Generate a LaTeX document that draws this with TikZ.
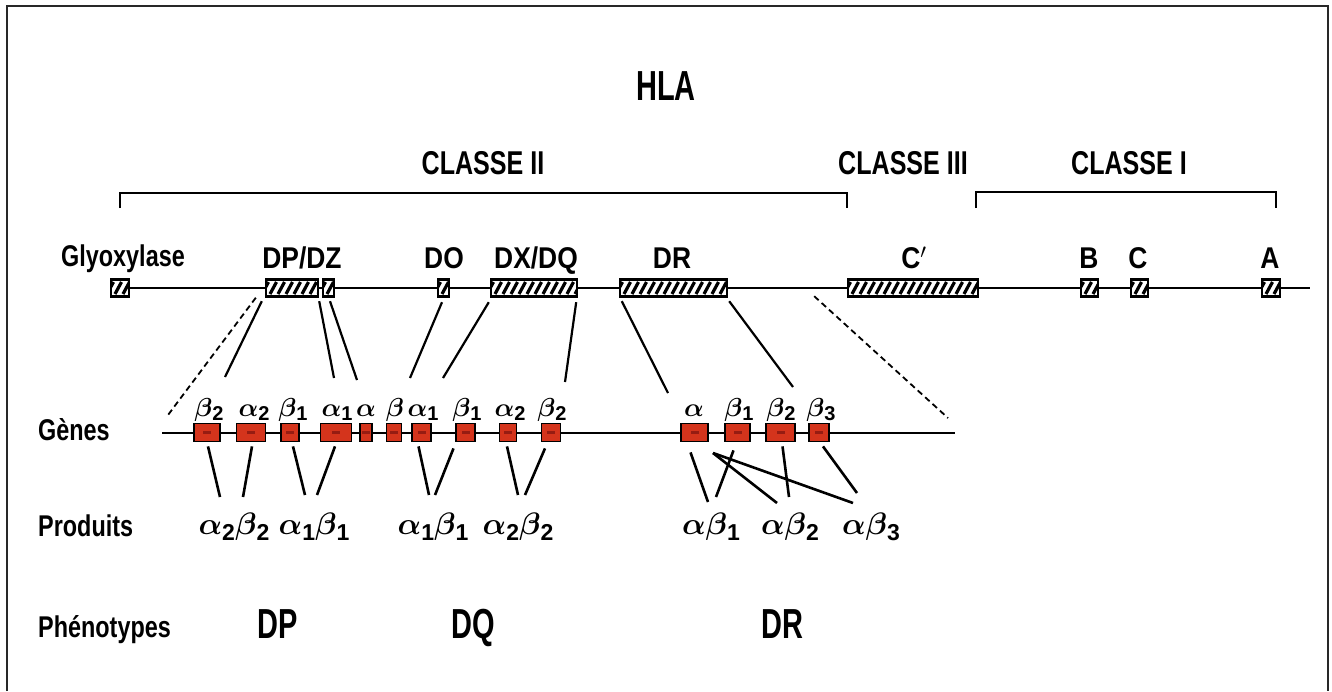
\documentclass[tikz,border=0pt]{standalone}
\usepackage{graphicx}
\usepackage{bm}
\usepackage{fontspec}
\setmainfont{Liberation Sans}
\newfontfamily\cond[FakeStretch=0.78]{Liberation Sans}
\newfontfamily\capf[FakeStretch=0.88]{Liberation Sans}
\newfontfamily\clsf[FakeStretch=0.76]{Liberation Sans}
\newfontfamily\narf[FakeStretch=0.69]{Liberation Sans}
\usetikzlibrary{calc,backgrounds}

\definecolor{genered}{RGB}{212,52,28}
\definecolor{genedark}{RGB}{150,28,18}
\definecolor{framegray}{RGB}{40,40,40}

% greek gene symbols (scaled bold math italic) with bold sans subscripts
\def\gsc{2.7}
\newcommand\ga{\scalebox{\gsc}{$\bm{\alpha}$}}
\newcommand\gb{\scalebox{\gsc}{$\bm{\beta}$}}
\newcommand\sbs[1]{\raisebox{-4pt}{\fontsize{20}{20}\selectfont\bfseries #1}}
\newcommand\sbp[1]{\raisebox{-6pt}{\fontsize{23}{23}\selectfont\bfseries #1}}

\tikzset{
  lbl/.style={font=\cond\bfseries\fontsize{30}{30}\selectfont, inner sep=0, anchor=base},
  caplbl/.style={font=\capf\bfseries\fontsize{30}{30}\selectfont, inner sep=0, anchor=base},
  cls/.style={font=\clsf\bfseries\fontsize{33}{33}\selectfont, inner sep=0, anchor=base},
  big/.style={font=\narf\bfseries\fontsize{42}{42}\selectfont, inner sep=0, anchor=base},
  glbl/.style={font=\def\gsc{2.6}, inner sep=0, anchor=base},
  plbl/.style={font=\def\gsc{3.1}, inner sep=0, anchor=base},
  hatched/.style={draw=black, line width=2.4pt, fill=white, minimum height=17pt,
    inner sep=0, anchor=center,
    path picture={
      \foreach \k in {0,...,18}{
        \draw[line width=3.2pt]
          ($(path picture bounding box.south west)+(\k*8-4,-2.5)$) -- ++(6.5,-12);
      }}},
  gene/.style={draw=black, line width=1.8pt, fill=genered, minimum height=18pt,
    inner sep=0, anchor=center,
    path picture={
      \fill[genedark] ($(path picture bounding box.center)+(-4,-1.5)$) rectangle ++(8,3);
    }},
  link/.style={line width=2.2pt},
  plink/.style={line width=2.6pt},
  guide/.style={line width=1.8pt, dash pattern=on 6pt off 4pt},
}

\begin{document}
\begin{tikzpicture}[x=1pt, y=-1pt]
\useasboundingbox (0,0) rectangle (1332,691);

% outer frame
\draw[line width=2.4pt, framegray] (7,691) -- (7,6) -- (1328,6) -- (1328,691);

% title and classes
\node[big] (hla) at (666,100) {HLA};
\node[cls] (c2) at (483,174) {CLASSE II};
\node[cls] (c3) at (903,174) {CLASSE III};
\node[cls] (c1) at (1129,174) {CLASSE I};

% class brackets
\draw[line width=2pt] (120,208) -- (120,193) -- (847,193) -- (847,208);
\draw[line width=2pt] (976,208) -- (976,192) -- (1276,192) -- (1276,208);

% chromosome map
\node[hatched, minimum width=18pt] (gly) at (120,288) {};
\node[hatched, minimum width=52pt] (dp) at (292,288) {};
\node[hatched, minimum width=11pt] (dz) at (328.5,288) {};
\node[hatched, minimum width=11pt] (do) at (443.5,288) {};
\node[hatched, minimum width=86pt] (dq) at (534,288) {};
\node[hatched, minimum width=107pt] (dr) at (673.5,288) {};
\node[hatched, minimum width=130pt] (cp) at (913,288) {};
\node[hatched, minimum width=17pt] (b) at (1089.5,288) {};
\node[hatched, minimum width=17pt] (c) at (1139.5,288) {};
\node[hatched, minimum width=18pt] (a) at (1271,288) {};
\coordinate (mapend) at (1310,288);
\begin{scope}[on background layer]
  \draw[line width=2pt] (gly.east) -- (mapend);
\end{scope}

\node[lbl] (lgly) at (123,266) {Glyoxylase};
\node[caplbl] (ldp) at (302,268) {DP/DZ};
\node[caplbl] (ldo) at (444,268) {DO};
\node[caplbl] (ldq) at (536,268) {DX/DQ};
\node[caplbl] (ldr) at (672,268) {DR};
\node[caplbl] (lcp) at (914,268) {C$'$};
\node[caplbl] (lb) at (1089,268) {B};
\node[caplbl] (lc) at (1138,268) {C};
\node[caplbl] (la) at (1270,268) {A};

% class II gene row
\coordinate (gstart) at (162,433);
\coordinate (gend) at (955,433);
\begin{scope}[on background layer]
  \draw[line width=2pt] (gstart) -- (gend);
\end{scope}
\node[gene, minimum width=26pt] (g1) at (207,432.5) {};
\node[gene, minimum width=29pt] (g2) at (251,432.5) {};
\node[gene, minimum width=18pt] (g3) at (290,432.5) {};
\node[gene, minimum width=31pt] (g4) at (336,432.5) {};
\node[gene, minimum width=12pt] (g5) at (366,432.5) {};
\node[gene, minimum width=15pt] (g6) at (394,432.5) {};
\node[gene, minimum width=19pt] (g7) at (421.5,432.5) {};
\node[gene, minimum width=19pt] (g8) at (465.5,432.5) {};
\node[gene, minimum width=17pt] (g9) at (508,432.5) {};
\node[gene, minimum width=19pt] (g10) at (551,432.5) {};
\node[gene, minimum width=27pt] (r1) at (694.5,432.5) {};
\node[gene, minimum width=25pt] (r2) at (737.5,432.5) {};
\node[gene, minimum width=29pt] (r3) at (780.5,432.5) {};
\node[gene, minimum width=20pt] (r4) at (819,432.5) {};

\node[glbl] (t1) at (209,416) {\gb\sbs{2}};
\node[glbl] (t2) at (254,416) {\ga\sbs{2}};
\node[glbl] (t3) at (293,416) {\gb\sbs{1}};
\node[glbl] (t4) at (337,416) {\ga\sbs{1}};
\node[glbl] (t5) at (366,416) {\ga};
\node[glbl] (t6) at (395,416) {\gb};
\node[glbl] (t7) at (423,416) {\ga\sbs{1}};
\node[glbl] (t8) at (467,416) {\gb\sbs{1}};
\node[glbl] (t9) at (510,416) {\ga\sbs{2}};
\node[glbl] (t10) at (552,416) {\gb\sbs{2}};
\node[glbl] (u1) at (694,416) {\ga};
\node[glbl] (u2) at (739,416) {\gb\sbs{1}};
\node[glbl] (u3) at (781,416) {\gb\sbs{2}};
\node[glbl] (u4) at (821,416) {\gb\sbs{3}};

% expansion guides and gene-to-locus links
\coordinate (e1) at (168,415);
\coordinate (e2) at (948,418);
\coordinate (k1) at (225,377);
\coordinate (k2) at (334,378);
\coordinate (k3) at (357,380);
\coordinate (k4) at (410,378);
\coordinate (k5) at (443,378);
\coordinate (k6) at (565,382);
\coordinate (k7) at (668,393);
\coordinate (k8) at (793,387);
\draw[guide] ($(dp.south west)+(-9,0)$) -- (e1);
\draw[guide] ($(dr.south east)+(86,-1.5)$) -- (e2);
\draw[link] ($(dp.south west)+(-3,3.5)$) -- (k1);
\draw[link] ($(dp.south east)+(0,3.5)$) -- (k2);
\draw[link] ($(dz.south)+(1.5,3.5)$) -- (k3);
\draw[link] ($(do.south)+(-1.5,4.5)$) -- (k4);
\draw[link] ($(dq.south west)+(-1,4.5)$) -- (k5);
\draw[link] ($(dq.south east)+(-2,4.5)$) -- (k6);
\draw[link] ($(dr.south west)+(3,3.5)$) -- (k7);
\draw[link] ($(dr.south east)+(1,3.5)$) -- (k8);

% products
\node[plbl] (p1) at (234,534) {\ga\sbp{2}\gb\sbp{2}};
\node[plbl] (p2) at (314,534) {\ga\sbp{1}\gb\sbp{1}};
\node[plbl] (p3) at (433,534) {\ga\sbp{1}\gb\sbp{1}};
\node[plbl] (p4) at (518,534) {\ga\sbp{2}\gb\sbp{2}};
\node[plbl] (q1) at (711,534) {\ga\gb\sbp{1}};
\node[plbl] (q2) at (790,534) {\ga\gb\sbp{2}};
\node[plbl] (q3) at (871,534) {\ga\gb\sbp{3}};

\coordinate (m1) at (220,497);
\coordinate (m2) at (243,497);
\coordinate (m3) at (305,495);
\coordinate (m4) at (317,495);
\coordinate (m5) at (429,495);
\coordinate (m6) at (435,495);
\coordinate (m7) at (518,495);
\coordinate (m8) at (525,495);
\draw[plink] ($(g1.south)+(1,4)$) -- (m1);
\draw[plink] ($(g2.south)+(1,4)$) -- (m2);
\draw[plink] ($(g3.south)+(3,4)$) -- (m3);
\draw[plink] ($(g4.south)+(-1,4)$) -- (m4);
\draw[plink] ($(g7.south)+(-3,4)$) -- (m5);
\draw[plink] ($(g8.south)+(-12,6)$) -- (m6);
\draw[plink] ($(g9.south)+(-1,4)$) -- (m7);
\draw[plink] ($(g10.south)+(-6,6)$) -- (m8);

\coordinate (x0) at (713,453);
\coordinate (n1) at (708,502);
\coordinate (n2) at (716,497);
\coordinate (n3) at (777,503);
\coordinate (n4) at (853,503);
\coordinate (n5) at (789,497);
\coordinate (n6) at (857,493);
\draw[plink] ($(r1.south)+(-4,10)$) -- (n1);
\draw[plink] ($(r2.south)+(-4,8)$) -- (n2);
\draw[plink] (x0) -- (n3);
\draw[plink] (x0) -- (n4);
\draw[plink] ($(r3.south)+(2,4)$) -- (n5);
\draw[plink] ($(r4.south)+(4,4)$) -- (n6);

% row labels
\node[lbl, anchor=base west] (rg) at (38,440) {Gènes};
\node[lbl, anchor=base west] (rp) at (38,536) {Produits};
\node[lbl, anchor=base west] (rf) at (38,637) {Phénotypes};

% phenotypes
\node[big] (fdp) at (278,638) {DP};
\node[big] (fdq) at (473,638) {DQ};
\node[big] (fdr) at (782,638) {DR};
\end{tikzpicture}
\end{document}
